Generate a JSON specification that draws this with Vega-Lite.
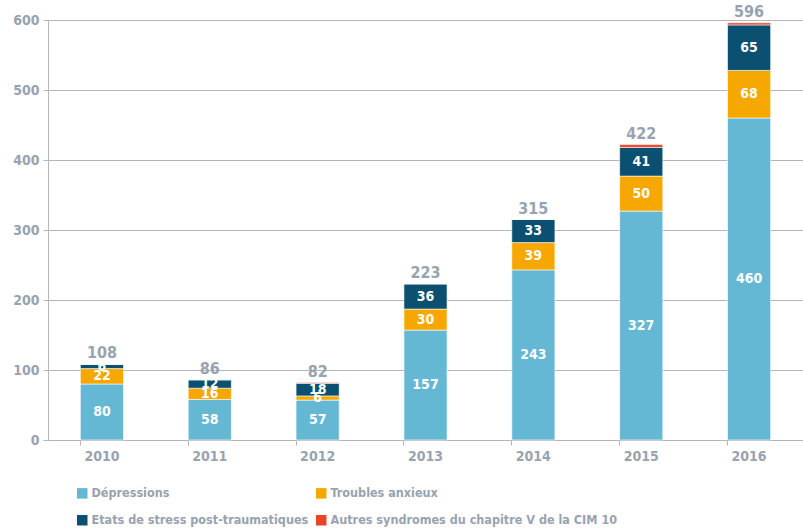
{
  "$schema": "https://vega.github.io/schema/vega-lite/v6.json",
  "autosize": {"type": "none"},
  "width": 755,
  "height": 420,
  "padding": {"left": 48, "top": 20, "right": 0, "bottom": 89},
  "background": "white",
  "config": {
    "font": "DejaVu Sans Condensed, Roboto, sans-serif",
    "view": {"stroke": null}
  },
  "data": {
    "values": [
      {"year": "2010", "cat": "Dépressions", "value": 80},
      {"year": "2010", "cat": "Troubles anxieux", "value": 22},
      {"year": "2010", "cat": "Etats de stress post-traumatiques", "value": 6},
      {"year": "2010", "cat": "Autres syndromes du chapitre V de la CIM 10", "value": 0},
      {"year": "2011", "cat": "Dépressions", "value": 58},
      {"year": "2011", "cat": "Troubles anxieux", "value": 16},
      {"year": "2011", "cat": "Etats de stress post-traumatiques", "value": 12},
      {"year": "2011", "cat": "Autres syndromes du chapitre V de la CIM 10", "value": 0},
      {"year": "2012", "cat": "Dépressions", "value": 57},
      {"year": "2012", "cat": "Troubles anxieux", "value": 6},
      {"year": "2012", "cat": "Etats de stress post-traumatiques", "value": 18},
      {"year": "2012", "cat": "Autres syndromes du chapitre V de la CIM 10", "value": 1},
      {"year": "2013", "cat": "Dépressions", "value": 157},
      {"year": "2013", "cat": "Troubles anxieux", "value": 30},
      {"year": "2013", "cat": "Etats de stress post-traumatiques", "value": 36},
      {"year": "2013", "cat": "Autres syndromes du chapitre V de la CIM 10", "value": 0},
      {"year": "2014", "cat": "Dépressions", "value": 243},
      {"year": "2014", "cat": "Troubles anxieux", "value": 39},
      {"year": "2014", "cat": "Etats de stress post-traumatiques", "value": 33},
      {"year": "2014", "cat": "Autres syndromes du chapitre V de la CIM 10", "value": 0},
      {"year": "2015", "cat": "Dépressions", "value": 327},
      {"year": "2015", "cat": "Troubles anxieux", "value": 50},
      {"year": "2015", "cat": "Etats de stress post-traumatiques", "value": 41},
      {"year": "2015", "cat": "Autres syndromes du chapitre V de la CIM 10", "value": 4},
      {"year": "2016", "cat": "Dépressions", "value": 460},
      {"year": "2016", "cat": "Troubles anxieux", "value": 68},
      {"year": "2016", "cat": "Etats de stress post-traumatiques", "value": 65},
      {"year": "2016", "cat": "Autres syndromes du chapitre V de la CIM 10", "value": 3}
    ]
  },
  "transform": [
    {"calculate": "indexof(['Dépressions','Troubles anxieux','Etats de stress post-traumatiques','Autres syndromes du chapitre V de la CIM 10'], datum.cat)", "as": "k"},
    {"stack": "value", "groupby": ["year"], "sort": [{"field": "k", "order": "ascending"}], "as": ["y0", "y1"]},
    {"calculate": "(datum.y0 + datum.y1) / 2", "as": "ymid"}
  ],
  "encoding": {
    "x": {
      "field": "year", "type": "ordinal",
      "scale": {"paddingInner": 0.6, "paddingOuter": 0.3},
      "axis": {
        "title": null, "labelAngle": 0, "bandPosition": 0,
        "labelColor": "#97a3ae", "labelFont": "DejaVu Sans Condensed, Roboto, sans-serif", "labelFontSize": 14, "labelFontWeight": "bold",
        "labelPadding": 4,
        "domainColor": "#b5b5b5", "tickColor": "#b5b5b5", "tickSize": 5, "grid": false
      }
    }
  },
  "layer": [
    {
      "mark": {"type": "bar", "stroke": "white", "strokeWidth": 0.6},
      "encoding": {
        "y": {
          "field": "y0", "type": "quantitative",
          "scale": {"domain": [0, 600]},
          "axis": {
            "title": null, "values": [0, 100, 200, 300, 400, 500, 600],
            "labelColor": "#97a3ae", "labelFont": "DejaVu Sans Condensed, Roboto, sans-serif", "labelFontSize": 14, "labelFontWeight": "bold",
            "labelPadding": 4,
            "domainColor": "#b5b5b5", "tickColor": "#b5b5b5", "tickSize": 5,
            "gridColor": "#b5b5b5", "gridWidth": 1
          }
        },
        "y2": {"field": "y1"},
        "color": {
          "field": "cat", "type": "nominal",
          "scale": {
            "domain": ["Dépressions", "Etats de stress post-traumatiques", "Troubles anxieux", "Autres syndromes du chapitre V de la CIM 10"],
            "range": ["#65b8d4", "#0b5071", "#f6a800", "#e8432b"]
          },
          "legend": {
            "title": null, "orient": "none", "legendX": 28, "legendY": 467,
            "columns": 2, "columnPadding": 6, "rowPadding": 14,
            "symbolType": "square", "symbolSize": 110, "symbolStrokeWidth": 0, "symbolOffset": 0,
            "labelColor": "#97a3ae", "labelFont": "DejaVu Sans Condensed, Roboto, sans-serif", "labelFontSize": 12.5, "labelFontWeight": "bold",
            "labelOffset": 3, "labelLimit": 400
          }
        }
      }
    },
    {
      "transform": [{"filter": "datum.value > 0 && datum.k < 3"}],
      "mark": {"type": "text", "color": "white", "fontSize": 14, "fontWeight": "bold", "baseline": "middle", "font": "DejaVu Sans Condensed, Roboto, sans-serif"},
      "encoding": {
        "y": {"field": "ymid", "type": "quantitative"},
        "text": {"field": "value", "type": "quantitative"}
      }
    },
    {
      "transform": [{"aggregate": [{"op": "sum", "field": "value", "as": "total"}], "groupby": ["year"]}],
      "mark": {"type": "text", "color": "#97a3ae", "fontSize": 16, "fontWeight": "bold", "baseline": "bottom", "dy": -3, "font": "DejaVu Sans Condensed, Roboto, sans-serif"},
      "encoding": {
        "y": {"field": "total", "type": "quantitative"},
        "text": {"field": "total", "type": "quantitative"}
      }
    }
  ]
}
